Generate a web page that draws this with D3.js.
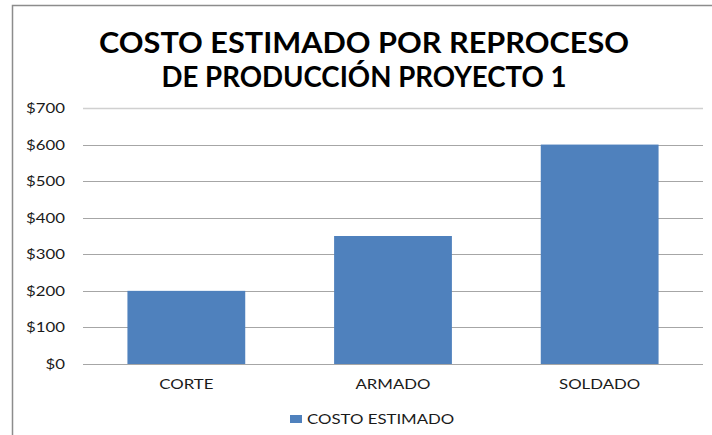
<!DOCTYPE html>
<html lang="es">
<head>
<meta charset="UTF-8">
<title>Costo estimado por reproceso</title>
<script src="https://d3js.org/d3.v7.min.js"></script>
<style>
  body { margin: 0; background: #fff; }
  svg { display: block; font-family: Lato, "Open Sans", sans-serif; }
</style>
</head>
<body>
<div id="chart"></div>
<script>
// data
var categories = ['CORTE', 'ARMADO', 'SOLDADO'];
var costValues = [200, 350, 600];
var yTicks = [0, 100, 200, 300, 400, 500, 600, 700];
var titleLines = ['COSTO ESTIMADO POR REPROCESO', 'DE PRODUCCIÓN PROYECTO 1'];
var seriesName = 'COSTO ESTIMADO';

var w = 712, h = 435;
var m = {top: 108, left: 83, right: 9, bottom: 71};
var barColor = '#4f81bd';
var stretch = 1.2; // labels in the picture are a bit wider than normal

// widen text glyphs a little, like the stretched original
function widen(sel, k) {
    sel.each(function() {
        var len = this.getComputedTextLength();
        d3.select(this)
            .attr('textLength', len * k)
            .attr('lengthAdjust', 'spacingAndGlyphs');
    });
}

var svg = d3.select('#chart').append('svg')
    .attr('width', w)
    .attr('height', h);

// chart frame (only top and left edges are inside the picture)
svg.append('path')
    .attr('d', 'M12.5,' + h + ' V5.5 H' + w)
    .attr('fill', 'none')
    .attr('stroke', '#8c8c8c')
    .attr('stroke-width', 1.5);

// title, one text per line
svg.append('g')
    .selectAll('text')
    .data(titleLines)
    .enter().append('text')
    .attr('text-anchor', 'middle')
    .attr('font-weight', 'bold')
    .attr('font-size', '28px')
    .attr('fill', '#000')
    .attr('x', 364)
    .attr('y', function(d, i) { return 53 + i * 34; })
    .attr('textLength', function(d, i) { return i === 0 ? 530 : 405; })
    .attr('lengthAdjust', 'spacingAndGlyphs')
    .text(function(d) { return d; });

var x = d3.scaleBand()
    .domain(categories)
    .range([m.left, w - m.right])
    .paddingInner(0.43)
    .paddingOuter(0.215);

var y = d3.scaleLinear()
    .domain([0, 700])
    .range([h - m.bottom, m.top]);

// gridlines
svg.append('g')
    .selectAll('line')
    .data(yTicks)
    .enter().append('line')
    .attr('x1', m.left)
    .attr('x2', w - m.right)
    .attr('y1', function(d) { return Math.round(y(d)) + 0.5; })
    .attr('y2', function(d) { return Math.round(y(d)) + 0.5; })
    .attr('stroke', function(d) { return d === 700 ? '#d0d0d0' : '#a6a6a6'; })
    .attr('stroke-width', function(d) { return d === 700 ? 1.5 : 1; });

// bars
svg.append('g')
    .selectAll('rect')
    .data(costValues)
    .enter().append('rect')
    .attr('x', function(d, i) { return x(categories[i]); })
    .attr('y', function(d) { return y(d); })
    .attr('width', x.bandwidth())
    .attr('height', function(d) { return y(0) - y(d); })
    .attr('fill', barColor);

// y axis labels
var yAxis = d3.axisLeft(y)
    .tickValues(yTicks)
    .tickSize(0)
    .tickPadding(18)
    .tickFormat(function(d) { return '$' + d; });
var gy = svg.append('g')
    .attr('transform', 'translate(' + m.left + ',0)')
    .call(yAxis);
gy.select('.domain').remove();
gy.selectAll('text')
    .attr('font-family', 'Lato, sans-serif')
    .attr('font-size', '14px')
    .attr('fill', '#1a1a1a')
    .call(widen, stretch);

// x axis labels
var xAxis = d3.axisBottom(x).tickSize(0).tickPadding(15);
var gx = svg.append('g')
    .attr('transform', 'translate(0,' + (h - m.bottom) + ')')
    .call(xAxis);
gx.select('.domain').remove();
gx.selectAll('text')
    .attr('font-family', 'Lato, sans-serif')
    .attr('font-size', '14px')
    .attr('fill', '#1a1a1a')
    .call(widen, stretch);

// legend
var legend = svg.append('g').attr('transform', 'translate(290,415)');
legend.append('rect')
    .attr('width', 12)
    .attr('height', 8)
    .attr('fill', barColor);
legend.append('text')
    .attr('x', 17)
    .attr('y', 8.5)
    .attr('font-size', '14px')
    .attr('fill', '#1a1a1a')
    .text(seriesName)
    .call(widen, stretch);
</script>
</body>
</html>
